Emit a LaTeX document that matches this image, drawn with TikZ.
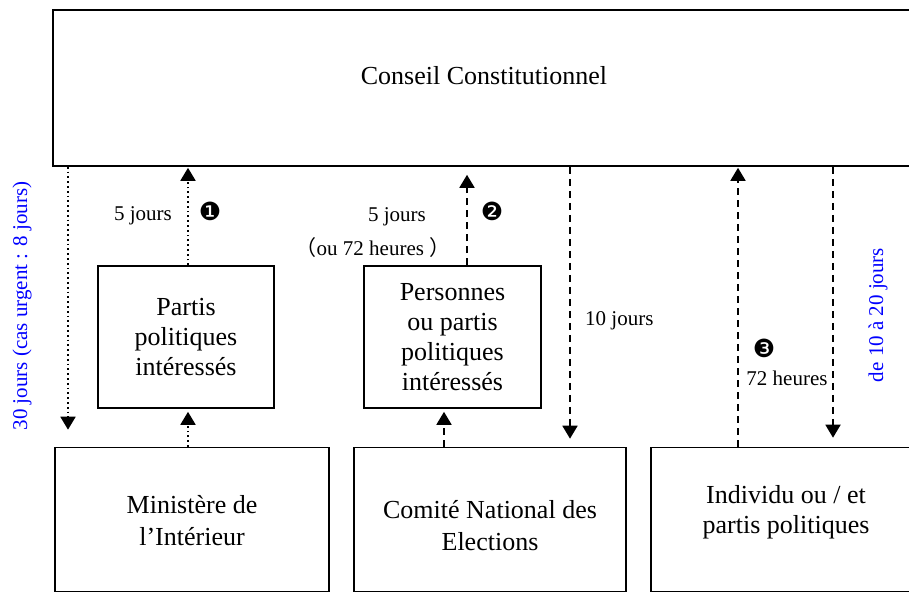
\documentclass[tikz,border=0pt]{standalone}
\usepackage{fontspec}
\setmainfont{Liberation Serif}
\newfontfamily\cjkfont{Noto Sans CJK SC}
\newfontfamily\dingfont{DejaVu Sans}
\usetikzlibrary{arrows.meta,calc}

\begin{document}
\begin{tikzpicture}[x=1pt,y=-1pt,
 box/.style={draw,line width=1.6pt,inner sep=0pt,rectangle},
 big/.style={font=\fontsize{26}{30}\selectfont,align=center,inner sep=0pt},
 lab/.style={font=\fontsize{21}{24}\selectfont,inner sep=0pt},
 bluelab/.style={lab,text=blue,rotate=90},
 num/.style={font=\dingfont\fontsize{25}{25}\selectfont,inner sep=0pt},
 dotarr/.style={line width=1.8pt,dash pattern=on 1.8pt off 3pt,-{Triangle[width=15pt,length=13pt]}},
 dasharr/.style={line width=1.8pt,dash pattern=on 7pt off 5pt,-{Triangle[width=15pt,length=13pt]}},
]
\useasboundingbox (0,0) rectangle (909,593);

% boxes
\node[box,minimum width=862pt,minimum height=156pt] (cc) at (484,88) {};
\node[big] (cct) at (484,76) {Conseil Constitutionnel};

\node[box,big,minimum width=176pt,minimum height=142pt] (pp) at (186,337) {Partis\\politiques\\intéressés};
\node[box,big,minimum width=177pt,minimum height=142pt] (pe) at (452.5,337) {Personnes\\ou partis\\politiques\\intéressés};

\node[box,minimum width=274pt,minimum height=144pt] (mi) at (192,519.5) {};
\node[big,font=\fontsize{26}{32}\selectfont] (mit) at (192,521) {Ministère de\\l’Intérieur};
\node[box,minimum width=272pt,minimum height=144pt] (cne) at (490,519.5) {};
\node[big,font=\fontsize{26}{32}\selectfont] (cnet) at (490,526) {Comité National des\\Elections};
\node[box,minimum width=270pt,minimum height=144pt] (ind) at (786,519.5) {};
\node[big] (indt) at (786,512) {Individu ou / et\\partis politiques};

% arrow x positions
\coordinate (xa) at (68,0);
\coordinate (xb) at (188,0);
\coordinate (xc) at (467,0);
\coordinate (xd) at (444,0);
\coordinate (xe) at (570,0);
\coordinate (xf) at (738,0);
\coordinate (xg) at (833,0);

% arrows
\draw[dotarr,shorten >=17pt] (cc.south -| xa) -- (mi.north -| xa);
\draw[dotarr,shorten >=1pt] (pp.north -| xb) -- (cc.south -| xb);
\draw[dotarr,shorten >=3pt] (mi.north -| xb) -- (pp.south -| xb);
\draw[dasharr,shorten >=8pt] (pe.north -| xc) -- (cc.south -| xc);
\draw[dasharr,shorten >=3pt] (cne.north -| xd) -- (pe.south -| xd);
\draw[dasharr,shorten >=8pt] (cc.south -| xe) -- (cne.north -| xe);
\draw[dasharr,shorten >=1pt] (ind.north -| xf) -- (cc.south -| xf);
\draw[dasharr,shorten >=9pt] (cc.south -| xg) -- (ind.north -| xg);

% labels
\node[lab] (l1) at (143,216) {5 jours};
\node[num] (n1) at (210,211) {❶};
\node[lab] (l2) at (397,217) {5 jours};
\node[lab] (l3) at (373,248) {{\cjkfont （}ou 72 heures {\cjkfont ）}};
\node[num] (n2) at (492,211) {❷};
\node[lab,anchor=west] (l4) at (585,321) {10 jours};
\node[num] (n3) at (764,348) {❸};
\node[lab] (l5) at (787,378) {72 heures};
\node[bluelab] (b1) at (878,315) {de 10 à 20 jours};
\node[bluelab] (b2) at (22,306) {30 jours (cas urgent : 8 jours)};
\end{tikzpicture}
\end{document}
